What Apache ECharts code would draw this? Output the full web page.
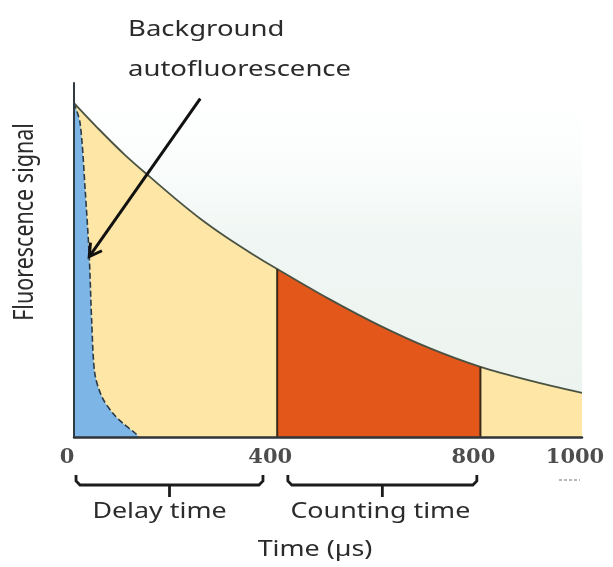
<!DOCTYPE html>
<html>
<head>
<meta charset="utf-8">
<title>Time-resolved fluorescence</title>
<script src="https://cdn.jsdelivr.net/npm/echarts@6/dist/echarts.min.js"></script>
<style>
  html, body { margin: 0; padding: 0; background: #ffffff; }
  #chart { width: 613px; height: 567px; }
</style>
</head>
<body>
<div id="chart"></div>
<script>
// Long-lived (lanthanide) emission: time in µs, signal in % of peak
const longTime = [0, 50, 100, 150, 200, 250, 300, 350, 400, 500, 600, 700, 800, 900, 1000];
const longSignal = [100, 92, 84.5, 77.8, 71.3, 65.2, 59.8, 54.9, 50.3, 41.5, 33.5, 26.6, 21, 16.8, 13.2];

// Short-lived background autofluorescence
const bgTime = [0, 12, 22, 30, 35, 41, 55, 77, 97, 120, 128];
const bgSignal = [100, 94, 74, 54, 34, 19, 12, 7, 4, 1.2, 0];

// Measurement windows (µs)
const delayWindow = [0, 400];
const countWindow = [400, 800];

// Tick labels shown on the time axis
const tickLabels = [0, 400, 800, 1000];

const pairs = (xs, ys) => xs.map((x, i) => [x, ys[i]]);
const longData = pairs(longTime, longSignal);
const bgData = pairs(bgTime, bgSignal);
const signalAt = t => longSignal[longTime.indexOf(t)];

const YELLOW = '#fde6a6';
const ORANGE = '#e3571b';

const chart = echarts.init(document.getElementById('chart'), null, { renderer: 'canvas' });

chart.setOption({
  animation: false,
  backgroundColor: '#ffffff',
  grid: {
    left: 74, right: 31, top: 83, bottom: 130,
    show: true, borderWidth: 0,
    backgroundColor: new echarts.graphic.LinearGradient(0, 0, 0, 1, [
      { offset: 0, color: '#ffffff' },
      { offset: 0.18, color: '#fcfefd' },
      { offset: 0.45, color: '#f0f6f3' },
      { offset: 1, color: '#ecf3ee' }
    ])
  },
  // area under the decay: yellow outside the counting window, orange inside
  visualMap: {
    type: 'piecewise', show: false, dimension: 0, seriesIndex: 0,
    pieces: [
      { lt: countWindow[0], color: YELLOW },
      { gte: countWindow[0], lte: countWindow[1], color: ORANGE },
      { gt: countWindow[1], color: YELLOW }
    ]
  },
  xAxis: {
    type: 'value', min: 0, max: 1000, interval: 200, z: 10,
    axisLine: { lineStyle: { color: '#2f3538', width: 2.5 } },
    axisTick: { show: false },
    splitLine: { show: false },
    axisLabel: {
      showMinLabel: true, showMaxLabel: true,
      formatter: v => (tickLabels.indexOf(v) >= 0 ? String(v) : ''),
      fontFamily: 'DejaVu Serif', fontWeight: 'bold', fontSize: 21,
      color: '#4d4d4d', margin: 10, padding: [0, 14, 0, 0]
    }
  },
  yAxis: {
    type: 'value', min: 0, max: 106, z: 10,
    axisLine: { show: true, lineStyle: { color: '#2f3a42', width: 2 } },
    axisTick: { show: false },
    axisLabel: { show: false },
    splitLine: { show: false }
  },
  series: [
    {
      type: 'line', data: longData, z: 2, smooth: 0.3, symbol: 'none',
      lineStyle: { width: 0 },
      areaStyle: { opacity: 1 }
    },
    {
      type: 'line', data: bgData, z: 4, smooth: 0.3, symbol: 'none',
      lineStyle: { color: '#2c3a48', width: 1.6, type: [6, 3] },
      areaStyle: { color: '#7db6e6', opacity: 1 }
    },
    {
      type: 'line', data: longData, z: 5, smooth: 0.3, symbol: 'none',
      lineStyle: { color: '#4a5242', width: 1.8 }
    },
    {
      type: 'line', symbol: 'none', z: 6,
      data: [[countWindow[0], 0], [countWindow[0], signalAt(countWindow[0])]],
      lineStyle: { color: '#3a2819', width: 2 }
    },
    {
      type: 'line', symbol: 'none', z: 6,
      data: [[countWindow[1], 0], [countWindow[1], signalAt(countWindow[1])]],
      lineStyle: { color: '#3a2819', width: 2 }
    }
  ]
});

// Annotations placed from data positions
const px = (t, s) => chart.convertToPixel({ gridIndex: 0 }, [t, s]);
const baseY = px(0, 0)[1];

function bracket(fromT, toT) {
  const l = px(fromT, 0)[0], r = px(toT, 0)[0], c = (l + r) / 2;
  const top = baseY + 38, mid = baseY + 48, low = baseY + 60;
  const stroke = { stroke: '#1c1c1c', lineWidth: 2.8, fill: null };
  return [
    { type: 'polyline', shape: { points: [[l, top], [l, mid - 4], [l + 4, mid], [r - 4, mid], [r, mid - 4], [r, top]] }, style: stroke },
    { type: 'line', shape: { x1: c, y1: mid, x2: c, y2: low }, style: stroke }
  ];
}

function label(text, x, y, opts) {
  opts = opts || {};
  return {
    type: 'text', x: x, y: y,
    rotation: opts.rotation || 0,
    scaleX: opts.scaleX || 1, scaleY: opts.scaleY || 1,
    style: {
      text: text, x: 0, y: 0,
      fill: '#2b2b2b',
      fontFamily: 'Noto Sans', fontSize: opts.size || 22,
      align: opts.align || 'center', verticalAlign: 'middle',
      textAlign: opts.align || 'center', textVerticalAlign: 'middle'
    },
    z: 20
  };
}

const dLeft = delayWindow[0] + 4, dRight = delayWindow[1] - 28;
const cLeft = countWindow[0] + 21, cRight = countWindow[1] - 7;
const dMid = (px(dLeft, 0)[0] + px(dRight, 0)[0]) / 2;
const cMid = (px(cLeft, 0)[0] + px(cRight, 0)[0]) / 2;

// arrow pointing at the autofluorescence decay
const tip = px(30, 54);
const tail = [tip[0] + 111, tip[1] - 158];
const ang = Math.atan2(tail[1] - tip[1], tail[0] - tip[0]);
const headLen = 14, spread = Math.PI / 6;
const w1 = [tip[0] + headLen * Math.cos(ang + spread), tip[1] + headLen * Math.sin(ang + spread)];
const w2 = [tip[0] + headLen * Math.cos(ang - spread), tip[1] + headLen * Math.sin(ang - spread)];

const xEnd = px(1000, 0)[0];

chart.setOption({
  graphic: [].concat(
    bracket(dLeft, dRight),
    bracket(cLeft, cRight),
    [
      label('Delay time', dMid - 10, baseY + 75, { scaleX: 1.22 }),
      label('Counting time', cMid - 2, baseY + 75, { scaleX: 1.22 }),
      label('Time (µs)', px(500, 0)[0] - 13, baseY + 113, { scaleX: 1.22 }),
      label('Background', 128, 30, { align: 'left', scaleX: 1.25 }),
      label('autofluorescence', 128, 70, { align: 'left', scaleX: 1.25 }),
      label('Fluorescence signal', 25, 222, { rotation: Math.PI / 2, size: 21.5, scaleY: 1.25 }),
      { type: 'line', z: 20, shape: { x1: tail[0], y1: tail[1], x2: tip[0], y2: tip[1] },
        style: { stroke: '#111111', lineWidth: 3 } },
      { type: 'polyline', z: 20, shape: { points: [w1, tip, w2] },
        style: { stroke: '#111111', lineWidth: 3, fill: null } },
      { type: 'line', z: 20, shape: { x1: xEnd - 23, y1: baseY + 43, x2: xEnd - 2, y2: baseY + 43 },
        style: { stroke: '#a0a0a0', lineWidth: 1.5, lineDash: [3, 2] } }
    ]
  )
});
</script>
</body>
</html>
